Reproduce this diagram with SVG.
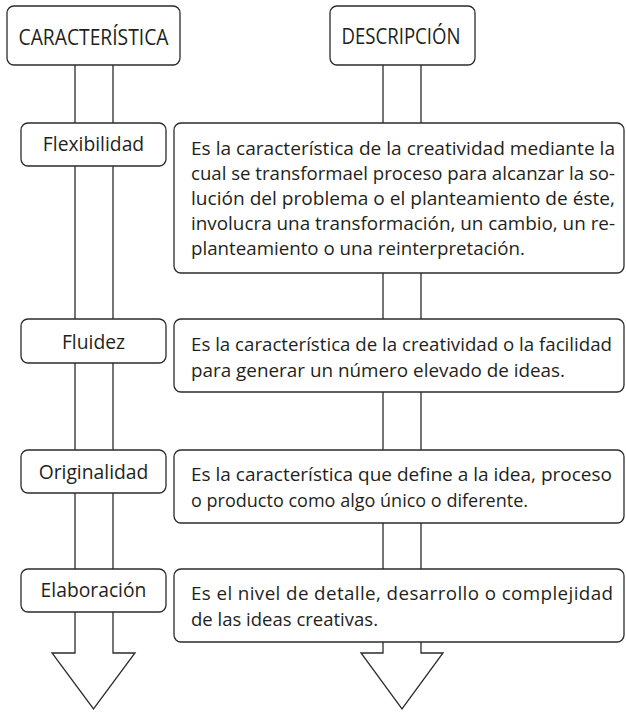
<svg xmlns="http://www.w3.org/2000/svg" width="626" height="713" viewBox="0 0 626 713">
<style>
.box{fill:#fff;stroke:#2b2b2b;stroke-width:1.3}
.ln{fill:none;stroke:#2b2b2b;stroke-width:1.3}
.hd{font-family:"Open Sans","Liberation Sans",sans-serif;font-size:21px;fill:#231f20;text-anchor:middle}
.lb{font-family:"Open Sans","Liberation Sans",sans-serif;font-size:19.3px;fill:#231f20;text-anchor:middle}
.ds{font-family:"Open Sans","Liberation Sans",sans-serif;font-size:18.8px;fill:#231f20}
</style>
<rect width="626" height="713" fill="#fff"/>
<g id="connectors">
<path class="ln" d="M75,65 V653 H52 L93.5,709 L135,653 H113 V65"/>
<path class="ln" d="M383,65 V653 H361 L402,709 L443,653 H421 V65"/>
</g>
<g id="hdr-caracteristica">
<rect class="box" x="7" y="6" width="173" height="59" rx="7"/>
<text class="hd" x="93.5" y="45" textLength="150" lengthAdjust="spacingAndGlyphs">CARACTERÍSTICA</text>
</g>
<g id="hdr-descripcion">
<rect class="box" x="330" y="6" width="145" height="59" rx="7"/>
<text class="hd" x="401" y="44" textLength="119" lengthAdjust="spacingAndGlyphs">DESCRIPCIÓN</text>
</g>
<g id="flexibilidad">
<rect class="box" x="21" y="123" width="145" height="43" rx="7"/>
<text class="lb" x="93.5" y="151">Flexibilidad</text>
</g>
<g id="desc-flexibilidad">
<rect class="box" x="174" y="123" width="450" height="150" rx="7"/>
<text class="ds" x="191" y="155" textLength="424" lengthAdjust="spacingAndGlyphs">Es la característica de la creatividad mediante la</text>
<text class="ds" x="191" y="180" textLength="424" lengthAdjust="spacingAndGlyphs">cual se transformael proceso para alcanzar la so-</text>
<text class="ds" x="191" y="205" textLength="424" lengthAdjust="spacingAndGlyphs">lución del problema o el planteamiento de éste,</text>
<text class="ds" x="191" y="230" textLength="424" lengthAdjust="spacingAndGlyphs">involucra una transformación, un cambio, un re-</text>
<text class="ds" x="191" y="255" textLength="334" lengthAdjust="spacingAndGlyphs">planteamiento o una reinterpretación.</text>
</g>
<g id="fluidez">
<rect class="box" x="21" y="319" width="145" height="44" rx="7"/>
<text class="lb" x="93.5" y="349">Fluidez</text>
</g>
<g id="desc-fluidez">
<rect class="box" x="174" y="319" width="450" height="73" rx="7"/>
<text class="ds" x="191" y="351" textLength="421" lengthAdjust="spacingAndGlyphs">Es la característica de la creatividad o la facilidad</text>
<text class="ds" x="191" y="377" textLength="374" lengthAdjust="spacingAndGlyphs">para generar un número elevado de ideas.</text>
</g>
<g id="originalidad">
<rect class="box" x="21" y="450" width="145" height="43" rx="7"/>
<text class="lb" x="93.5" y="479">Originalidad</text>
</g>
<g id="desc-originalidad">
<rect class="box" x="174" y="450" width="450" height="73" rx="7"/>
<text class="ds" x="191" y="481" textLength="421" lengthAdjust="spacingAndGlyphs">Es la característica que define a la idea, proceso</text>
<text class="ds" x="191" y="507" textLength="337" lengthAdjust="spacingAndGlyphs">o producto como algo único o diferente.</text>
</g>
<g id="elaboracion">
<rect class="box" x="21" y="569" width="145" height="43" rx="7"/>
<text class="lb" x="93.5" y="597">Elaboración</text>
</g>
<g id="desc-elaboracion">
<rect class="box" x="174" y="569" width="450" height="73" rx="7"/>
<text class="ds" x="191" y="600" textLength="422" lengthAdjust="spacing">Es el nivel de detalle, desarrollo o complejidad</text>
<text class="ds" x="191" y="626" textLength="187" lengthAdjust="spacingAndGlyphs">de las ideas creativas.</text>
</g>
</svg>
